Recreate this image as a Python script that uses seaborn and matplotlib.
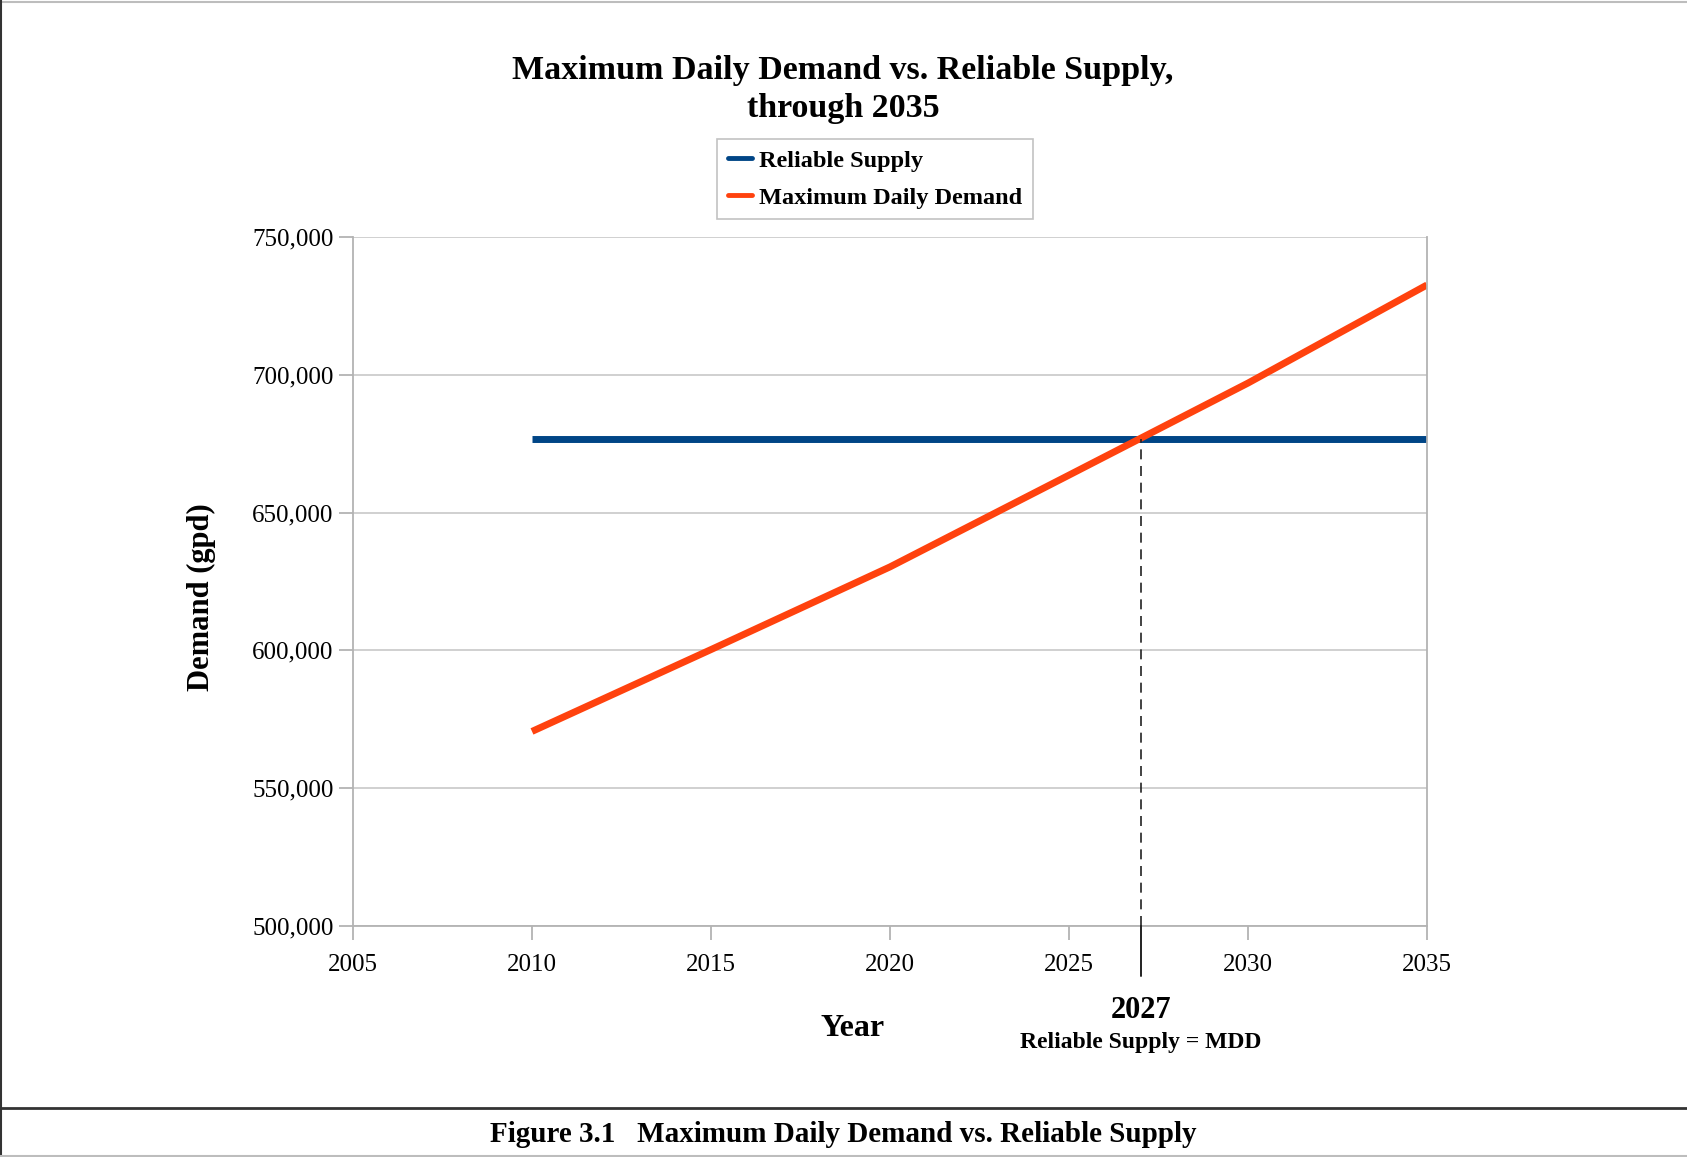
import matplotlib
matplotlib.use("Agg")
import matplotlib.pyplot as plt
from matplotlib.lines import Line2D
from matplotlib.ticker import FuncFormatter
import seaborn as sns
import pandas as pd

# Projected maximum daily demand (gpd) by year
years = [2010, 2015, 2020, 2025, 2030, 2035]
max_daily_demand = [570600, 600300, 630300, 663600, 697000, 732600]
# Reliable supply (gpd), flat over the planning period
supply_years = [2010, 2035]
reliable_supply = [676700, 676700]
crossover_year = 2027

x_ticks = [2005, 2010, 2015, 2020, 2025, 2030, 2035]
y_ticks = [500000, 550000, 600000, 650000, 700000, 750000]

series_names = ["Reliable Supply", "Maximum Daily Demand"]
colors = {"Reliable Supply": "#004586", "Maximum Daily Demand": "#ff420e"}

df = pd.concat([
    pd.DataFrame({"Year": supply_years, "gpd": reliable_supply, "Series": series_names[0]}),
    pd.DataFrame({"Year": years, "gpd": max_daily_demand, "Series": series_names[1]}),
])

sns.set_theme(style="white")
plt.rcParams["font.family"] = ["Liberation Serif", "DejaVu Serif"]
plt.rcParams["text.color"] = "black"

W, H = 1687, 1157
fig = plt.figure(figsize=(W / 100, H / 100), dpi=100)
ax = fig.add_axes([353 / W, 1 - 926 / H, (1427 - 353) / W, (926 - 237) / H])

sns.lineplot(data=df, x="Year", y="gpd", hue="Series", palette=colors,
             hue_order=series_names, linewidth=5, ax=ax, legend=False,
             solid_capstyle="butt")

ax.set_xlim(2005, 2035)
ax.set_ylim(500000, 750000)
ax.set_xticks(x_ticks)
ax.set_yticks(y_ticks)
ax.yaxis.set_major_formatter(FuncFormatter(lambda v, p: f"{int(v):,}"))
ax.grid(axis="y", color="#c8c8c8", linewidth=1.2)
ax.set_axisbelow(True)
for side in ["left", "right", "bottom"]:
    ax.spines[side].set_color("#b3b3b3")
    ax.spines[side].set_linewidth(1.3)
ax.spines["top"].set_visible(False)
ax.tick_params(axis="both", which="major", direction="out", length=10,
               width=1.3, color="#b3b3b3", labelsize=18, labelcolor="black",
               pad=4)
ax.tick_params(axis="x", bottom=True, pad=10)
ax.tick_params(axis="y", left=True)
ax.set_xlabel("")
ax.set_ylabel("")

# Crossover marker: dashed inside the plot, solid below the axis
y_cross = reliable_supply[0]
ax.plot([crossover_year, crossover_year], [500000, y_cross], color="#222222",
        linewidth=1.2, linestyle=(0, (6, 4)), zorder=3)
ax.plot([crossover_year, crossover_year], [500000, 482000], color="#222222",
        linewidth=1.4, clip_on=False, zorder=3)
ax.text(crossover_year, -0.122, "2027", transform=ax.get_xaxis_transform(),
        ha="center", va="center", fontsize=22, fontweight="bold")
ax.text(crossover_year, -0.169, "Reliable Supply = MDD",
        transform=ax.get_xaxis_transform(), ha="center", va="center",
        fontsize=17, fontweight="bold")

fig.text(853 / W, 1 - 1028 / H, "Year", ha="center", va="center",
         fontsize=23, fontweight="bold")
fig.text(201 / W, 1 - 597 / H, "Demand (gpd)", ha="center", va="center",
         rotation=90, fontsize=22, fontweight="bold")

fig.text(843 / W, 1 - 70 / H, "Maximum Daily Demand vs. Reliable Supply,",
         ha="center", va="center", fontsize=24.5, fontweight="bold")
fig.text(843 / W, 1 - 108 / H, "through 2035", ha="center", va="center",
         fontsize=24.5, fontweight="bold")

handles = [Line2D([0], [0], color=colors[n], linewidth=3.5) for n in series_names]
leg = fig.legend(handles, series_names, loc="upper center",
                 bbox_to_anchor=(875 / W, 1 - 139 / H), frameon=True,
                 fancybox=False, handlelength=1.0, handletextpad=0.3,
                 borderpad=0.45, labelspacing=0.6, borderaxespad=0,
                 prop={"family": "Liberation Serif", "weight": "bold", "size": 17.5})
leg.get_frame().set_edgecolor("#b3b3b3")
leg.get_frame().set_linewidth(1.2)

# Page frame and caption
fig.add_artist(Line2D([0, 1], [1 - 2 / H, 1 - 2 / H], transform=fig.transFigure,
                      color="#bdbdbd", linewidth=1.5))
fig.add_artist(Line2D([1 / W, 1 / W], [0, 1], transform=fig.transFigure,
                      color="#333333", linewidth=1.5))
fig.add_artist(Line2D([0, 1], [1 - 1108 / H, 1 - 1108 / H], transform=fig.transFigure,
                      color="#333333", linewidth=2))
fig.add_artist(Line2D([0, 1], [1 - 1156 / H, 1 - 1156 / H], transform=fig.transFigure,
                      color="#bdbdbd", linewidth=1.5))
fig.text(843 / W, 1 - 1135 / H,
         "Figure 3.1   Maximum Daily Demand vs. Reliable Supply",
         ha="center", va="center", fontsize=21, fontweight="bold")

fig.savefig("out.png", dpi=100, facecolor="white")
